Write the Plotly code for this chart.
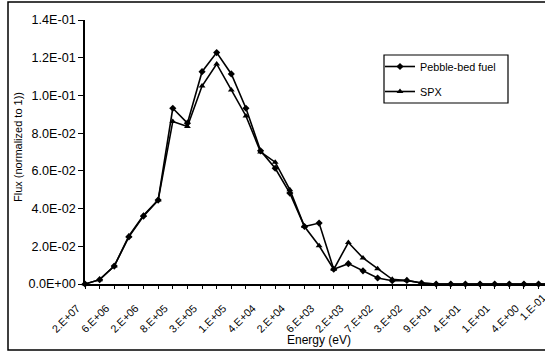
import plotly.graph_objects as go

# ---------------- data ----------------
energy_labels = ["2.E+07", "6.E+06", "2.E+06", "8.E+05", "3.E+05", "1.E+05",
                 "4.E+04", "2.E+04", "6.E+03", "2.E+03", "7.E+02", "3.E+02",
                 "9.E+01", "4.E+01", "1.E+01", "4.E+00", "1.E-01"]
group_index = list(range(33))

pebble_bed = [0.0, 0.0023, 0.0095, 0.0250, 0.0360, 0.0445, 0.0932, 0.0853,
              0.1126, 0.1227, 0.1114, 0.0932, 0.0706, 0.0614, 0.0482, 0.0305,
              0.0323, 0.0078, 0.0108, 0.0070, 0.0032, 0.0017, 0.0019, 0.0005,
              0.0, 0.0, 0.0, 0.0, 0.0, 0.0, 0.0, 0.0, 0.0]
spx = [0.0, 0.0023, 0.0095, 0.0255, 0.0365, 0.0445, 0.0862, 0.0835,
       0.1050, 0.1167, 0.1029, 0.0891, 0.0700, 0.0646, 0.0500, 0.0305,
       0.0203, 0.0078, 0.0220, 0.0138, 0.0081, 0.0025, 0.0019, 0.0005,
       0.0, 0.0, 0.0, 0.0, 0.0, 0.0, 0.0, 0.0, 0.0]

y_tick_vals = [0.0, 0.02, 0.04, 0.06, 0.08, 0.10, 0.12, 0.14]
y_tick_text = ["0.0E+00", "2.0E-02", "4.0E-02", "6.0E-02", "8.0E-02",
               "1.0E-01", "1.2E-01", "1.4E-01"]

# --------------- figure ----------------
FONT = "Liberation Sans, Arial, sans-serif"
x_tick_text = [energy_labels[i // 2] if i % 2 == 0 else "" for i in group_index]
x_max = 31.44
PLOT_W = 460.0
PLOT_H = 264.0

fig = go.Figure()
fig.add_trace(go.Scatter(
    x=group_index, y=pebble_bed, name="Pebble-bed fuel", mode="lines+markers",
    line=dict(color="black", width=1.6),
    marker=dict(symbol="diamond", size=5.5, color="black"),
    cliponaxis=False, legendgroup="a"))
fig.add_trace(go.Scatter(
    x=group_index, y=spx, name="SPX", mode="lines+markers",
    line=dict(color="black", width=1.6),
    marker=dict(symbol="triangle-up", size=6, color="black"),
    cliponaxis=False, legendgroup="b"))

fig.update_layout(
    width=545, height=352,
    margin=dict(l=85, r=0, t=20, b=68),
    paper_bgcolor="white", plot_bgcolor="white",
    font=dict(family=FONT, color="black"),
    showlegend=True,
    legend=dict(x=(380 - 85) / PLOT_W, y=(284 - 52) / PLOT_H,
                xanchor="left", yanchor="top",
                borderwidth=0, bgcolor="rgba(0,0,0,0)",
                font=dict(size=10.8, family=FONT, color="black"),
                traceorder="grouped", tracegroupgap=6, itemwidth=30),
    xaxis=dict(range=[0, x_max], tickmode="array", tickvals=group_index,
               ticktext=x_tick_text, tickangle=-45, ticks="outside",
               ticklen=3, tickcolor="black", showline=True, linecolor="black",
               linewidth=1.5, showgrid=False, zeroline=False,
               ticklabelstandoff=9, ticklabelshift=-8,
               tickfont=dict(size=10.8, family=FONT, color="black")),
    xaxis2=dict(range=[0, x_max], overlaying="x", anchor="y", side="bottom",
                tickmode="array", tickvals=group_index, ticks="inside",
                ticklen=3, tickcolor="black", showticklabels=False,
                showline=False, showgrid=False, zeroline=False),
    yaxis=dict(range=[0, 0.14], tickmode="array", tickvals=y_tick_vals,
               ticktext=y_tick_text, ticks="outside", ticklen=5,
               tickcolor="black", showline=True, linecolor="black",
               linewidth=1.5, showgrid=False, zeroline=False,
               tickfont=dict(size=12.6, family=FONT, color="black")),
)

# axis titles
fig.add_annotation(text="Energy (eV)", xref="paper", yref="paper",
                   x=(319 - 85) / PLOT_W, y=(284 - 340) / PLOT_H,
                   xanchor="center", yanchor="middle",
                   showarrow=False, font=dict(size=12, family=FONT))
fig.add_annotation(text="Flux (normalized to 1))", xref="paper", yref="paper",
                   x=(18 - 85) / PLOT_W, y=(284 - 147) / PLOT_H, textangle=-90,
                   xanchor="center", yanchor="middle",
                   showarrow=False, font=dict(size=11, family=FONT))
# last energy label (cropped by the right edge as in the source)
fig.add_annotation(text=energy_labels[-1], xref="paper", yref="paper",
                   x=(551 - 85) / PLOT_W, y=(284 - 289) / PLOT_H,
                   xanchor="right", yanchor="top",
                   textangle=-45, showarrow=False,
                   font=dict(size=10.8, family=FONT))

# legend frame
fig.add_shape(type="rect", xref="paper", yref="paper",
              x0=(384 - 85) / PLOT_W, x1=(508 - 85) / PLOT_W,
              y0=(284 - 103) / PLOT_H, y1=(284 - 55) / PLOT_H,
              line=dict(color="black", width=1.2))

# chart-area border
fig.add_shape(type="rect", xref="paper", yref="paper",
              x0=(8 - 85) / PLOT_W, x1=1.05, y0=(284 - 350) / PLOT_H,
              y1=(284 - 2) / PLOT_H, line=dict(color="black", width=1.5))

fig.write_html("out.html")
